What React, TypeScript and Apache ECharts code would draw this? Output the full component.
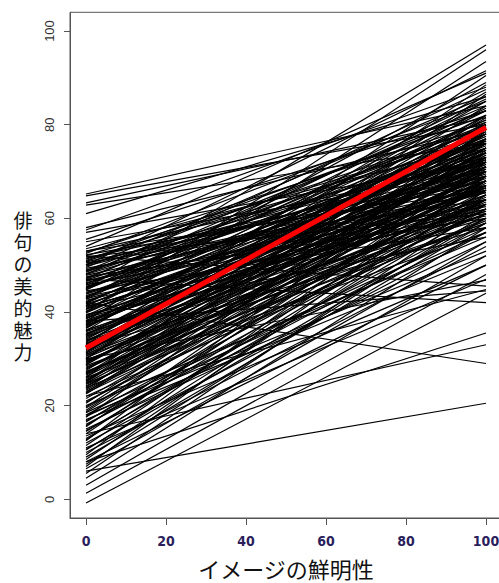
import React, { useEffect, useRef } from "react";
import * as echarts from "echarts";

// Each pair: [value at imagery vividness 0, value at imagery vividness 100]
const upperLeftLines: [number, number][] = [
  [65.2, 84], [64.8, 80], [63.3, 81.5], [62.8, 76], [61, 86], [58, 79], [57.5, 88],
  [57, 72], [55.5, 83], [55, 70], [54, 91], [53.5, 76], [53, 66],
];
const upperRightLines: [number, number][] = [
  [45, 97], [40, 96], [38, 93.5], [50, 91.5], [33, 90.5], [43, 89], [30, 88.5],
  [48, 87.5], [36, 87], [26, 86.5],
];
const lowRightLines: [number, number][] = [
  [6, 20.5], [8, 35.5], [14, 33], [42, 29], [47, 42], [38, 44.5], [52, 45.5],
  [30, 46.8], [22, 44.8], [18, 53],
];
const coreLinesA: [number, number][] = [
  [52.5, 85], [52, 78], [51.5, 70], [51, 82], [50.5, 64], [50, 75], [49.5, 86], [49, 68],
  [48.5, 79], [48, 73], [47.5, 60], [47, 84], [46.5, 71], [46, 77], [45.5, 66], [45, 81],
  [44.5, 58], [44, 74], [43.5, 69], [43, 85], [42.5, 62], [42, 78], [41.5, 72], [41, 67],
  [40.5, 83], [40, 75], [39.5, 56], [39, 70], [38.5, 80], [38, 64], [37.5, 77], [37, 73],
  [36.5, 85], [36, 68], [35.5, 60], [35, 79], [34.5, 71], [34, 66], [33.5, 82], [33, 75],
  [32.5, 58], [32, 69], [31.5, 78], [31, 63], [30.5, 73], [30, 84], [29.5, 67], [29, 76],
  [28.5, 61], [28, 71], [27.5, 80], [27, 65], [26.5, 74], [26, 57], [25.5, 69], [25, 78],
  [24.5, 63], [24, 72], [23.5, 82], [23, 66], [22.5, 75], [22, 60],
];
const coreLinesB: [number, number][] = [
  [53, 72], [51.8, 61], [50.8, 79.5], [49.8, 71.5], [48.8, 83], [47.8, 66.5], [46.8, 74.5],
  [45.8, 62.5], [44.8, 78.5], [43.8, 71], [42.8, 65.5], [41.8, 81], [40.8, 69.5], [39.8, 76.5],
  [38.8, 62], [37.8, 74], [36.8, 79], [35.8, 65], [34.8, 72.5], [33.8, 61.5], [32.8, 80.5],
  [31.8, 68], [30.8, 76], [29.8, 59], [28.8, 73.5], [27.8, 67.5], [26.8, 78.5], [25.8, 64],
  [24.8, 70.5], [23.8, 59.5], [22.8, 77], [52.2, 67], [48.2, 76], [44.2, 66], [40.2, 72.5],
  [36.2, 63], [32.2, 71.5], [28.2, 63.5], [24.2, 68], [46.2, 70], [42.2, 75.5], [38.2, 68.5],
  [34.2, 76.5], [30.2, 66.5], [26.2, 70], [50.2, 73], [37.2, 71], [33.2, 67], [41.2, 64],
  [45.2, 74], [29.2, 70], [25.2, 74.5], [35.2, 69], [39.2, 79], [43.2, 77], [47.2, 69],
  [31.2, 74], [27.2, 59],
];
const coreLinesC: [number, number][] = [
  [51.3, 76.5], [49.3, 65.5], [47.3, 80], [45.3, 70.5], [43.3, 60.5], [41.3, 77.5], [39.3, 66],
  [37.3, 82], [35.3, 74], [33.3, 64.5], [31.3, 81.5], [29.3, 72], [27.3, 62], [25.3, 79.5],
  [23.3, 70], [50.7, 69], [46.7, 63], [42.7, 83.5], [38.7, 72], [34.7, 68], [30.7, 61],
  [26.7, 67], [22.7, 64], [48.7, 72.5], [44.7, 85.5], [40.7, 61.5], [36.7, 76], [32.7, 73],
  [28.7, 79], [24.7, 61], [52.7, 80.5], [37.7, 66.5], [33.7, 78], [29.7, 64], [41.7, 70],
  [45.7, 79.5],
];
const lowLeftLines: [number, number][] = [
  [21.5, 70], [21, 62], [20.5, 76], [20, 56], [19.5, 67], [19, 73], [18.5, 58], [18, 64],
  [17.5, 79], [17, 52], [16.5, 69], [16, 60], [15.5, 74], [15, 55], [14.5, 66], [14, 71],
  [13.5, 50], [13, 62], [12.5, 77], [12, 57], [11.5, 68], [11, 47], [10.5, 64], [10, 54],
  [9.5, 72], [9, 59], [8.5, 66], [8, 50], [7.5, 61], [7, 69], [6.5, 55], [5.5, 63],
  [4.5, 58], [3, 52], [1.3, 48], [-0.8, 44], [20.7, 67], [18.7, 71], [16.7, 63], [14.7, 59],
  [12.7, 65], [10.7, 60], [19.7, 75], [17.7, 57], [15.7, 68],
];
const meanLine: [number, number] = [32.3, 79.4];
const xTicks = [0, 20, 40, 60, 80, 100];
const yTicks = [0, 20, 40, 60, 80, 100];
const xName = "イメージの鮮明性";
const yName = "俳句の美的魅力";

export default function App() {
  const ref = useRef<HTMLDivElement>(null);
  useEffect(() => {
    if (!ref.current) return;
    const chart = echarts.init(ref.current, undefined, { renderer: "svg" });
    const allLines = [
      ...upperLeftLines,
      ...upperRightLines,
      ...lowRightLines,
      ...coreLinesA,
      ...coreLinesB,
      ...coreLinesC,
      ...lowLeftLines,
    ];
    const series: any[] = allLines.map((p) => ({
      type: "line",
      data: [
        [0, p[0]],
        [100, p[1]],
      ],
      symbol: "none",
      silent: true,
      lineStyle: { color: "#000", width: 1.2 },
      z: 2,
    }));
    series.push({
      type: "line",
      data: [
        [0, meanLine[0]],
        [100, meanLine[1]],
      ],
      symbol: "none",
      silent: true,
      lineStyle: { color: "#ff0000", width: 5, cap: "butt" },
      z: 5,
    });
    const yNameChars = yName.split("").map((ch, i) => ({
      type: "text",
      x: 23,
      y: 219 + i * 22,
      silent: true,
      style: {
        text: ch,
        fontSize: 19,
        lineHeight: 19,
        fill: "#111",
        align: "center",
        verticalAlign: "middle",
        fontFamily: "'Noto Sans CJK JP', sans-serif",
      },
    }));
    chart.setOption({
      animation: false,
      backgroundColor: "#fff",
      grid: {
        left: 70,
        top: 12.3,
        width: 432,
        height: 505.7,
        outerBoundsMode: "none",
        containLabel: false,
        show: true,
        borderColor: "#555",
        borderWidth: 1,
        backgroundColor: "transparent",
      },
      xAxis: {
        type: "value",
        min: -4,
        max: 104,
        name: xName,
        nameLocation: "middle",
        nameGap: 39,
        nameTextStyle: {
          fontSize: 22,
          lineHeight: 22,
          color: "#111",
          fontFamily: "'Noto Sans CJK JP', sans-serif",
        },
        axisLine: { show: true, onZero: false, lineStyle: { color: "#555" } },
        axisTick: {
          show: true,
          customValues: xTicks,
          length: 7,
          lineStyle: { color: "#555" },
        },
        axisLabel: {
          customValues: xTicks,
          margin: 16,
          fontSize: 14,
          fontWeight: "bold",
          color: "#2a1e5c",
          fontFamily: "'Liberation Sans Narrow', 'DejaVu Sans Condensed', sans-serif",
        },
        splitLine: { show: false },
      },
      yAxis: {
        type: "value",
        min: -4,
        max: 104,
        axisLine: { show: true, onZero: false, lineStyle: { color: "#555" } },
        axisTick: {
          show: true,
          customValues: yTicks,
          length: 6,
          lineStyle: { color: "#555" },
        },
        axisLabel: {
          customValues: yTicks,
          rotate: 90,
          margin: 14,
          fontSize: 13,
          color: "#333",
          fontFamily: "'Liberation Sans', Arial, sans-serif",
        },
        splitLine: { show: false },
      },
      graphic: yNameChars,
      series,
    });
    return () => chart.dispose();
  }, []);
  return (
    <div
      ref={ref}
      style={{ position: "absolute", left: 0, top: 0, width: 499, height: 583 }}
    />
  );
}
